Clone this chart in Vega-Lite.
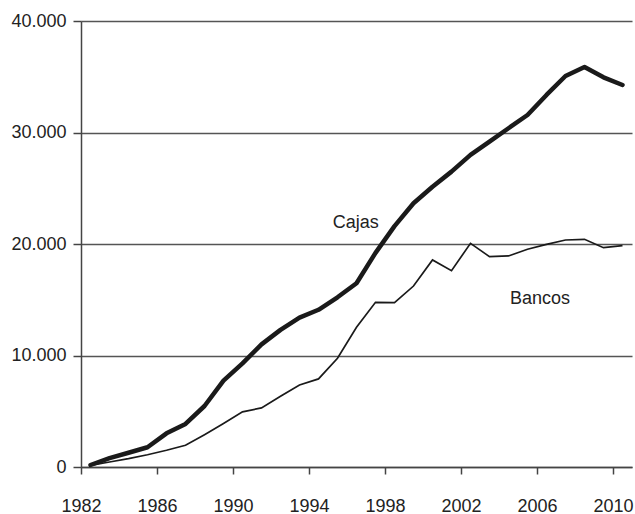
{
  "$schema": "https://vega.github.io/schema/vega-lite/v6.json",
  "width": 551,
  "height": 446,
  "autosize": "none",
  "padding": {"left": 81, "top": 21, "right": 3, "bottom": 47},
  "background": "white",
  "config": {
    "view": {"stroke": null},
    "font": "Liberation Sans",
    "axis": {
      "labelFont": "Liberation Sans",
      "labelFontSize": 18,
      "labelColor": "#222222",
      "domainColor": "#444444",
      "domainWidth": 1.5,
      "tickColor": "#444444",
      "tickWidth": 1.5,
      "title": null
    }
  },
  "datasets": {
    "series": [
      {"year": 1982.5, "serie": "Cajas", "value": 180},
      {"year": 1983.5, "serie": "Cajas", "value": 800},
      {"year": 1984.5, "serie": "Cajas", "value": 1280},
      {"year": 1985.5, "serie": "Cajas", "value": 1770},
      {"year": 1986.5, "serie": "Cajas", "value": 3020},
      {"year": 1987.5, "serie": "Cajas", "value": 3860},
      {"year": 1988.5, "serie": "Cajas", "value": 5470},
      {"year": 1989.5, "serie": "Cajas", "value": 7750},
      {"year": 1990.5, "serie": "Cajas", "value": 9300},
      {"year": 1991.5, "serie": "Cajas", "value": 11000},
      {"year": 1992.5, "serie": "Cajas", "value": 12300},
      {"year": 1993.5, "serie": "Cajas", "value": 13400},
      {"year": 1994.5, "serie": "Cajas", "value": 14100},
      {"year": 1995.5, "serie": "Cajas", "value": 15220},
      {"year": 1996.5, "serie": "Cajas", "value": 16480},
      {"year": 1997.5, "serie": "Cajas", "value": 19200},
      {"year": 1998.5, "serie": "Cajas", "value": 21600},
      {"year": 1999.5, "serie": "Cajas", "value": 23650},
      {"year": 2000.5, "serie": "Cajas", "value": 25140},
      {"year": 2001.5, "serie": "Cajas", "value": 26490},
      {"year": 2002.5, "serie": "Cajas", "value": 27990},
      {"year": 2003.5, "serie": "Cajas", "value": 29180},
      {"year": 2004.5, "serie": "Cajas", "value": 30380},
      {"year": 2005.5, "serie": "Cajas", "value": 31570},
      {"year": 2006.5, "serie": "Cajas", "value": 33370},
      {"year": 2007.5, "serie": "Cajas", "value": 35070},
      {"year": 2008.5, "serie": "Cajas", "value": 35880},
      {"year": 2009.5, "serie": "Cajas", "value": 34950},
      {"year": 2010.5, "serie": "Cajas", "value": 34260},
      {"year": 1982.5, "serie": "Bancos", "value": 150},
      {"year": 1983.5, "serie": "Bancos", "value": 450},
      {"year": 1984.5, "serie": "Bancos", "value": 750},
      {"year": 1985.5, "serie": "Bancos", "value": 1100},
      {"year": 1986.5, "serie": "Bancos", "value": 1500},
      {"year": 1987.5, "serie": "Bancos", "value": 1950},
      {"year": 1988.5, "serie": "Bancos", "value": 2900},
      {"year": 1989.5, "serie": "Bancos", "value": 3900},
      {"year": 1990.5, "serie": "Bancos", "value": 4950},
      {"year": 1991.5, "serie": "Bancos", "value": 5300},
      {"year": 1992.5, "serie": "Bancos", "value": 6350},
      {"year": 1993.5, "serie": "Bancos", "value": 7350},
      {"year": 1994.5, "serie": "Bancos", "value": 7900},
      {"year": 1995.5, "serie": "Bancos", "value": 9750},
      {"year": 1996.5, "serie": "Bancos", "value": 12530},
      {"year": 1997.5, "serie": "Bancos", "value": 14770},
      {"year": 1998.5, "serie": "Bancos", "value": 14740},
      {"year": 1999.5, "serie": "Bancos", "value": 16230},
      {"year": 2000.5, "serie": "Bancos", "value": 18570},
      {"year": 2001.5, "serie": "Bancos", "value": 17610},
      {"year": 2002.5, "serie": "Bancos", "value": 20060},
      {"year": 2003.5, "serie": "Bancos", "value": 18870},
      {"year": 2004.5, "serie": "Bancos", "value": 18930},
      {"year": 2005.5, "serie": "Bancos", "value": 19530},
      {"year": 2006.5, "serie": "Bancos", "value": 19970},
      {"year": 2007.5, "serie": "Bancos", "value": 20360},
      {"year": 2008.5, "serie": "Bancos", "value": 20420},
      {"year": 2009.5, "serie": "Bancos", "value": 19670},
      {"year": 2010.5, "serie": "Bancos", "value": 19850}
    ],
    "labels": [
      {"label": "Cajas", "year": 1996.46, "value": 21910},
      {"label": "Bancos", "year": 2006.16, "value": 15040}
    ]
  },
  "layer": [
    {
      "data": {"name": "series"},
      "transform": [{"filter": "datum.serie === 'Bancos'"}],
      "mark": {"type": "line", "color": "#1a1a1a", "strokeWidth": 1.7, "strokeJoin": "miter"},
      "encoding": {
        "x": {
          "field": "year",
          "type": "quantitative",
          "scale": {"domain": [1982, 2011], "nice": false, "zero": false},
          "axis": {
            "values": [1982, 1986, 1990, 1994, 1998, 2002, 2006, 2010],
            "format": "d",
            "grid": false,
            "tickSize": 7,
            "labelPadding": 23,
            "labelFlush": false
          }
        },
        "y": {
          "field": "value",
          "type": "quantitative",
          "scale": {"domain": [0, 40000], "nice": false},
          "axis": {
            "values": [0, 10000, 20000, 30000, 40000],
            "labelExpr": "replace(format(datum.value, ','), ',', '.')",
            "grid": true,
            "gridColor": "#555555",
            "gridWidth": 1.3,
            "tickSize": 8,
            "labelPadding": 7
          }
        }
      }
    },
    {
      "data": {"name": "series"},
      "transform": [{"filter": "datum.serie === 'Cajas'"}],
      "mark": {"type": "line", "color": "#1a1a1a", "strokeWidth": 4.5, "strokeJoin": "round", "strokeCap": "round"},
      "encoding": {
        "x": {"field": "year", "type": "quantitative"},
        "y": {"field": "value", "type": "quantitative"}
      }
    },
    {
      "data": {"name": "labels"},
      "mark": {"type": "text", "fontSize": 18, "color": "#222222", "font": "Liberation Sans"},
      "encoding": {
        "x": {"field": "year", "type": "quantitative"},
        "y": {"field": "value", "type": "quantitative"},
        "text": {"field": "label"}
      }
    }
  ]
}
